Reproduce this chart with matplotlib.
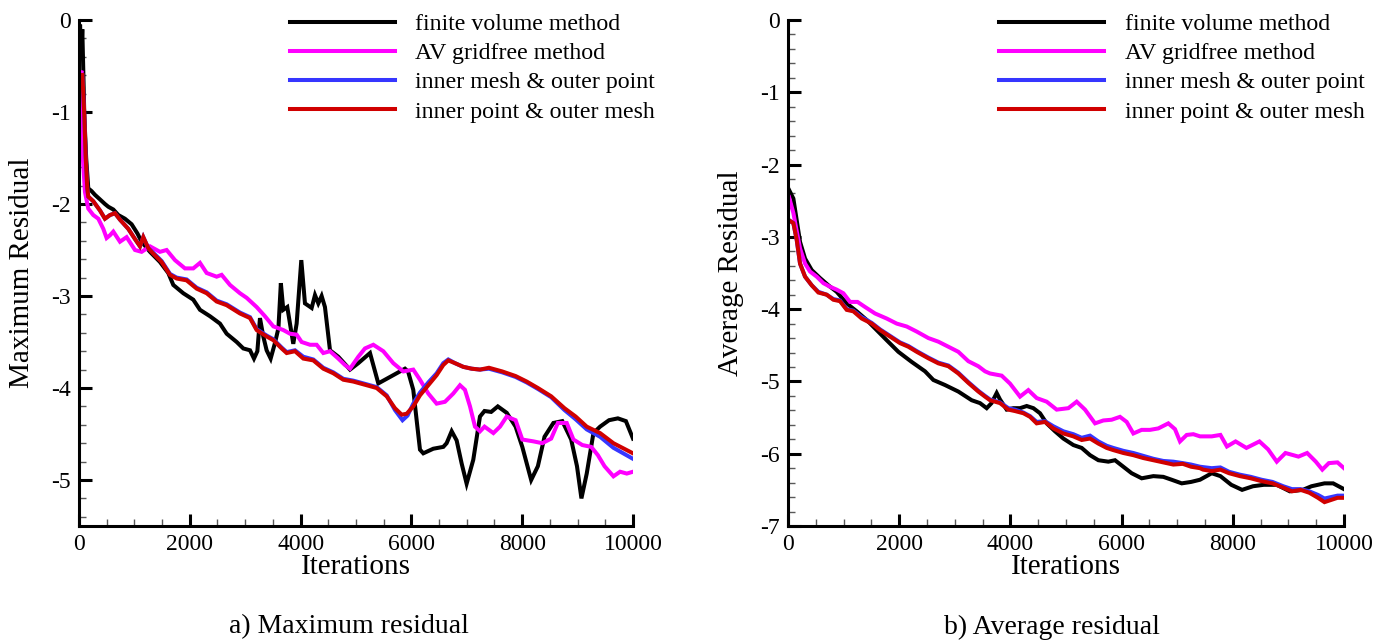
import numpy as np
import matplotlib
matplotlib.use("Agg")
import matplotlib.pyplot as plt
from matplotlib.ticker import MultipleLocator

plt.rcParams['font.family'] = ['Liberation Serif', 'DejaVu Serif']
plt.rcParams['axes.unicode_minus'] = False

# --- datos ---
etiquetas = ['finite volume method', 'AV gridfree method',
             'inner mesh & outer point', 'inner point & outer mesh']
colores = ['black', '#ff00ff', '#3636ff', '#d00000']

# a) residuo maximo
max_fv_x = [0, 20, 40, 60, 80, 96, 130, 168, 228, 288, 379, 469, 530, 620, 710, 830, 950, 1055,
            1130, 1282, 1462, 1612, 1703, 1883, 2063, 2184, 2365, 2545, 2666, 2847, 2966, 3087,
            3159, 3220, 3267, 3327, 3387, 3460, 3538, 3600, 3644, 3688, 3760, 3868, 3929, 4013,
            4079, 4200, 4260, 4320, 4380, 4440, 4531, 4681, 4892, 5042, 5253, 5403, 5614, 5884,
            5940, 6034, 6095, 6155, 6215, 6395, 6576, 6636, 6727, 6817, 6907, 6997, 7117, 7238,
            7320, 7440, 7560, 7721, 7881, 8002, 8162, 8283, 8403, 8563, 8724, 8884, 8989, 9069,
            9165, 9286, 9406, 9567, 9727, 9872, 10000]
max_fv_y = [-0.3, -0.05, -0.4, -0.1, -0.6, -1.03, -1.5, -1.83, -1.86, -1.9, -1.95, -2.0, -2.03,
            -2.06, -2.12, -2.16, -2.22, -2.32, -2.41, -2.52, -2.63, -2.75, -2.88, -2.97, -3.04,
            -3.15, -3.22, -3.30, -3.41, -3.50, -3.57, -3.59, -3.68, -3.60, -3.24, -3.44, -3.59,
            -3.68, -3.51, -3.35, -2.86, -3.15, -3.12, -3.52, -3.30, -2.61, -3.08, -3.13, -2.99,
            -3.08, -3.0, -3.12, -3.59, -3.66, -3.80, -3.73, -3.62, -3.95, -3.88, -3.79, -3.82,
            -4.02, -4.35, -4.67, -4.71, -4.66, -4.64, -4.60, -4.47, -4.57, -4.82, -5.04, -4.78,
            -4.31, -4.25, -4.26, -4.20, -4.27, -4.42, -4.64, -5.0, -4.85, -4.53, -4.38, -4.36,
            -4.56, -4.85, -5.2, -4.93, -4.49, -4.42, -4.35, -4.33, -4.36, -4.55]

max_av_x = [30, 45, 60, 80, 108, 168, 258, 349, 439, 499, 560, 620, 740, 860, 1011, 1131, 1282,
            1462, 1582, 1733, 1913, 2063, 2184, 2305, 2485, 2575, 2726, 2906, 3027, 3207, 3357,
            3508, 3688, 3809, 3929, 4019, 4170, 4290, 4410, 4531, 4681, 4801, 4892, 5042, 5162,
            5313, 5493, 5673, 5854, 6034, 6155, 6305, 6456, 6606, 6756, 6877, 6967, 7058, 7148,
            7240, 7320, 7480, 7600, 7721, 7881, 8002, 8202, 8363, 8523, 8644, 8804, 8925, 9085,
            9246, 9366, 9486, 9647, 9767, 9888, 10000]
max_av_y = [-0.6, -0.55, -1.4, -1.6, -1.87, -2.05, -2.12, -2.16, -2.27, -2.37, -2.34, -2.30,
            -2.41, -2.36, -2.50, -2.52, -2.46, -2.52, -2.50, -2.61, -2.70, -2.70, -2.64, -2.75,
            -2.79, -2.77, -2.88, -2.97, -3.02, -3.12, -3.22, -3.33, -3.37, -3.41, -3.42, -3.50,
            -3.53, -3.53, -3.62, -3.60, -3.68, -3.75, -3.79, -3.66, -3.57, -3.53, -3.60, -3.73,
            -3.82, -3.80, -3.91, -4.06, -4.17, -4.15, -4.06, -3.97, -4.02, -4.20, -4.42, -4.47,
            -4.42, -4.49, -4.42, -4.31, -4.35, -4.56, -4.58, -4.60, -4.55, -4.38, -4.38, -4.56,
            -4.62, -4.64, -4.73, -4.85, -4.96, -4.91, -4.93, -4.91]

max_imop_x = [36, 60, 96, 120, 150, 168, 258, 379, 469, 560, 650, 740, 890, 1010, 1101, 1161,
              1251, 1342, 1492, 1643, 1763, 1943, 2124, 2305, 2485, 2666, 2906, 3087, 3207, 3388,
              3508, 3658, 3749, 3899, 4049, 4230, 4410, 4591, 4771, 4952, 5193, 5373, 5554, 5704,
              5840, 5930, 6034, 6155, 6305, 6456, 6576, 6666, 6787, 6937, 7087, 7238, 7400, 7640,
              7881, 8082, 8283, 8523, 8764, 8965, 9165, 9406, 9647, 10000]
max_imop_y = [-0.63, -0.58, -1.03, -1.47, -1.83, -1.92, -1.97, -2.07, -2.16, -2.12, -2.10,
              -2.17, -2.27, -2.38, -2.46, -2.36, -2.48, -2.53, -2.62, -2.76, -2.80, -2.82, -2.91,
              -2.96, -3.05, -3.09, -3.18, -3.23, -3.36, -3.43, -3.47, -3.56, -3.61, -3.59, -3.66,
              -3.69, -3.78, -3.83, -3.90, -3.92, -3.96, -3.99, -4.08, -4.24, -4.35, -4.30, -4.17,
              -4.05, -3.94, -3.84, -3.73, -3.69, -3.73, -3.77, -3.79, -3.80, -3.79, -3.83, -3.88,
              -3.94, -4.01, -4.10, -4.24, -4.34, -4.45, -4.53, -4.65, -4.77]

max_ipom_x = [36, 60, 96, 120, 150, 168, 258, 379, 469, 560, 650, 740, 890, 1010, 1101, 1161,
              1251, 1342, 1492, 1643, 1763, 1943, 2124, 2305, 2485, 2666, 2906, 3087, 3207, 3388,
              3508, 3658, 3749, 3899, 4049, 4230, 4410, 4591, 4771, 4952, 5193, 5373, 5554, 5704,
              5825, 5915, 6034, 6155, 6305, 6456, 6576, 6666, 6787, 6937, 7087, 7238, 7400, 7640,
              7881, 8082, 8283, 8523, 8764, 8965, 9165, 9406, 9647, 10000]
max_ipom_y = [-0.63, -0.58, -1.03, -1.47, -1.83, -1.92, -1.97, -2.07, -2.16, -2.12, -2.10,
              -2.17, -2.27, -2.38, -2.46, -2.36, -2.48, -2.54, -2.63, -2.77, -2.81, -2.83, -2.92,
              -2.97, -3.06, -3.10, -3.19, -3.24, -3.37, -3.44, -3.48, -3.57, -3.62, -3.60, -3.68,
              -3.70, -3.79, -3.84, -3.91, -3.93, -3.97, -4.00, -4.09, -4.22, -4.29, -4.28, -4.20,
              -4.08, -3.97, -3.86, -3.75, -3.70, -3.73, -3.77, -3.79, -3.80, -3.78, -3.82, -3.87,
              -3.93, -4.00, -4.09, -4.22, -4.31, -4.42, -4.49, -4.60, -4.71]

# b) residuo promedio
avg_fv_x = [18, 96, 156, 216, 306, 426, 576, 725, 875, 1055, 1235, 1415, 1595, 1775, 1984, 2224,
            2464, 2614, 2824, 3063, 3303, 3453, 3573, 3660, 3753, 3813, 3933, 4053, 4173, 4293,
            4413, 4532, 4652, 4802, 4952, 5132, 5282, 5432, 5582, 5761, 5881, 6031, 6181, 6361,
            6571, 6750, 6900, 7081, 7250, 7410, 7621, 7777, 7972, 8167, 8362, 8557, 8791, 9025,
            9259, 9415, 9649, 9805, 10000]
avg_fv_y = [-2.35, -2.47, -2.77, -3.07, -3.30, -3.46, -3.57, -3.67, -3.76, -3.92, -4.03, -4.15,
            -4.29, -4.43, -4.59, -4.73, -4.86, -4.98, -5.05, -5.14, -5.26, -5.30, -5.37, -5.30,
            -5.16, -5.25, -5.39, -5.37, -5.37, -5.34, -5.37, -5.44, -5.58, -5.69, -5.79, -5.88,
            -5.92, -6.02, -6.09, -6.11, -6.09, -6.18, -6.27, -6.34, -6.31, -6.32, -6.36, -6.41,
            -6.39, -6.36, -6.27, -6.31, -6.43, -6.50, -6.45, -6.43, -6.43, -6.52, -6.50, -6.45,
            -6.41, -6.41, -6.49]

avg_av_x = [18, 96, 156, 216, 306, 396, 516, 635, 755, 875, 995, 1115, 1250, 1385, 1565, 1775,
            1955, 2134, 2314, 2524, 2704, 2884, 3063, 3243, 3423, 3543, 3633, 3843, 3993, 4173,
            4322, 4472, 4652, 4832, 5042, 5192, 5342, 5522, 5671, 5820, 5971, 6091, 6211, 6360,
            6511, 6660, 6840, 6960, 7050, 7171, 7290, 7410, 7621, 7777, 7894, 8050, 8245, 8479,
            8635, 8791, 8947, 9181, 9337, 9493, 9610, 9727, 9883, 10000]
avg_av_y = [-2.45, -2.67, -2.92, -3.16, -3.37, -3.48, -3.55, -3.64, -3.69, -3.73, -3.78, -3.90,
            -3.90, -3.97, -4.06, -4.13, -4.20, -4.24, -4.31, -4.40, -4.45, -4.52, -4.59, -4.72,
            -4.79, -4.86, -4.89, -4.92, -5.03, -5.21, -5.12, -5.23, -5.28, -5.39, -5.37, -5.28,
            -5.39, -5.58, -5.54, -5.53, -5.49, -5.56, -5.72, -5.67, -5.67, -5.65, -5.58, -5.66,
            -5.83, -5.74, -5.73, -5.76, -5.76, -5.74, -5.90, -5.83, -5.92, -5.83, -5.94, -6.11,
            -5.99, -6.04, -5.99, -6.11, -6.22, -6.13, -6.12, -6.20]

avg_imop_x = [18, 96, 156, 216, 306, 426, 545, 695, 815, 935, 1055, 1175, 1325, 1505, 1655, 1835,
              2014, 2164, 2314, 2524, 2704, 2884, 3063, 3243, 3423, 3543, 3633, 3813, 3963, 4083,
              4233, 4353, 4472, 4622, 4772, 4952, 5132, 5282, 5432, 5582, 5732, 5851, 6031, 6211,
              6391, 6571, 6750, 6930, 7100, 7250, 7410, 7621, 7777, 7933, 8128, 8323, 8518, 8713,
              8908, 9064, 9220, 9376, 9532, 9649, 9766, 9883, 10000]
avg_imop_y = [-2.77, -2.81, -3.04, -3.37, -3.55, -3.67, -3.76, -3.80, -3.86, -3.88, -4.00, -4.02,
              -4.11, -4.19, -4.28, -4.37, -4.46, -4.51, -4.58, -4.67, -4.74, -4.78, -4.88, -5.01,
              -5.13, -5.20, -5.25, -5.29, -5.37, -5.39, -5.43, -5.48, -5.56, -5.55, -5.62, -5.69,
              -5.73, -5.78, -5.75, -5.83, -5.89, -5.92, -5.96, -5.99, -6.03, -6.07, -6.10, -6.11,
              -6.13, -6.15, -6.18, -6.20, -6.19, -6.25, -6.29, -6.32, -6.36, -6.39, -6.45, -6.49,
              -6.49, -6.52, -6.57, -6.62, -6.60, -6.58, -6.58]

avg_ipom_x = [18, 96, 156, 216, 306, 426, 545, 695, 815, 935, 1055, 1175, 1325, 1505, 1655, 1835,
              2014, 2164, 2314, 2524, 2704, 2884, 3063, 3243, 3423, 3543, 3633, 3813, 3963, 4083,
              4233, 4353, 4472, 4622, 4772, 4952, 5132, 5282, 5432, 5582, 5732, 5851, 6031, 6211,
              6391, 6571, 6750, 6930, 7100, 7250, 7410, 7465, 7621, 7777, 7933, 8128, 8323, 8518,
              8713, 8908, 9064, 9220, 9376, 9532, 9649, 9766, 9883, 10000]
avg_ipom_y = [-2.77, -2.81, -3.04, -3.37, -3.55, -3.67, -3.77, -3.80, -3.87, -3.89, -4.01, -4.03,
              -4.13, -4.20, -4.29, -4.38, -4.47, -4.52, -4.59, -4.68, -4.75, -4.79, -4.89, -5.02,
              -5.14, -5.21, -5.26, -5.30, -5.39, -5.41, -5.44, -5.49, -5.58, -5.56, -5.65, -5.72,
              -5.76, -5.81, -5.79, -5.86, -5.92, -5.95, -5.99, -6.02, -6.06, -6.09, -6.12, -6.15,
              -6.14, -6.18, -6.20, -6.22, -6.24, -6.22, -6.27, -6.31, -6.34, -6.38, -6.41, -6.47,
              -6.52, -6.50, -6.54, -6.61, -6.67, -6.64, -6.61, -6.61]


def estilo_ejes(ax, ymin, ylabel):
    ax.set_xlim(0, 10000)
    ax.set_ylim(ymin, 0)
    ax.spines['top'].set_visible(False)
    ax.spines['right'].set_visible(False)
    for s in ('left', 'bottom'):
        ax.spines[s].set_linewidth(2.2)
    ax.xaxis.set_major_locator(MultipleLocator(2000))
    ax.xaxis.set_minor_locator(MultipleLocator(500))
    ax.yaxis.set_major_locator(MultipleLocator(1))
    ax.yaxis.set_minor_locator(MultipleLocator(0.2))
    ax.tick_params(which='major', direction='in', length=9, width=2.2,
                   labelsize=17, pad=6, right=False, top=False)
    ax.tick_params(which='minor', direction='in', length=5, width=1,
                   color='0.35', right=False, top=False)
    ax.set_yticks(np.arange(np.ceil(ymin), 0.5, 1))
    ax.set_xlabel('Iterations', fontsize=21)
    ax.xaxis.set_label_coords(0.5, -0.055)
    ax.set_ylabel(ylabel, fontsize=21)
    ax.yaxis.set_label_coords(-0.08, 0.5)


def graficar_panel(ax, series):
    for (x, y), color, etiqueta in zip(series, colores, etiquetas):
        ax.plot(x, y, color=color, lw=2.9, label=etiqueta, solid_joinstyle='miter')
    ax.legend(loc='upper left', bbox_to_anchor=(0.38, 1.013), frameon=False,
              fontsize=17.2, handlelength=4.4, handletextpad=0.85,
              labelspacing=0.31, borderpad=0, borderaxespad=0)


fig = plt.figure(figsize=(13.83, 6.41), dpi=100)
ax1 = fig.add_axes([0.0571, 0.1794, 0.4006, 0.7894])
ax2 = fig.add_axes([0.5698, 0.1794, 0.4020, 0.7894])

graficar_panel(ax1, [(max_fv_x, max_fv_y), (max_av_x, max_av_y),
                     (max_imop_x, max_imop_y), (max_ipom_x, max_ipom_y)])
graficar_panel(ax2, [(avg_fv_x, avg_fv_y), (avg_av_x, avg_av_y),
                     (avg_imop_x, avg_imop_y), (avg_ipom_x, avg_ipom_y)])

estilo_ejes(ax1, -5.5, 'Maximum Residual')
estilo_ejes(ax2, -7, 'Average Residual')

fig.text(349 / 1383, 1 - 627 / 641, 'a) Maximum residual', fontsize=20,
         ha='center', va='center')
fig.text(1052 / 1383, 1 - 627 / 641, 'b) Average residual', fontsize=20,
         ha='center', va='center')

fig.savefig('out.png', dpi=100)
